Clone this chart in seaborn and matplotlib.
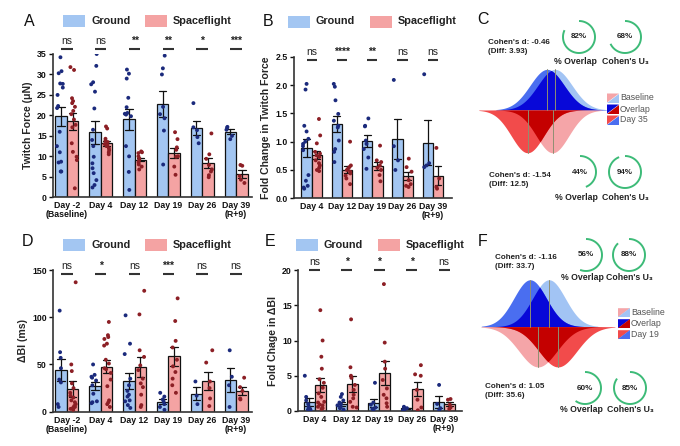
import numpy as np
import pandas as pd
import matplotlib.pyplot as plt
import seaborn as sns
from matplotlib.patches import Rectangle, Polygon

sns.set_style('ticks')
plt.rcParams['font.family'] = ['Liberation Sans', 'DejaVu Sans']
plt.rcParams['font.weight'] = 'bold'
plt.rcParams['axes.labelweight'] = 'bold'
np.random.seed(3)  # only for the jitter of the dots

W, H = 680, 446
groups = ['Ground', 'Spaceflight']
bar_colors = ['#a3c6f2', '#f4a3a3']
dot_colors = ['#1b2a7c', '#8c1f25']

# A: twitch force (uN), one list per day
days_a = ['Day -2\n(Baseline)', 'Day 4', 'Day 12', 'Day 19', 'Day 26', 'Day 39\n(R+9)']
force_ground = [
    [34.2, 30.8, 30.3, 27.8, 27.7, 26.8, 25.0, 22.3, 21.8, 16.0, 12.5, 11.0, 8.7, 8.5, 6.3, 6.3],
    [35.0, 32.1, 28.1, 27.6, 25.8, 21.7, 16.5, 14.0, 12.5, 9.9, 8.3, 7.1, 5.9, 4.2, 3.0, 2.4],
    [31.2, 30.2, 29.0, 24.3, 22.0, 20.6, 20.4, 20.2, 19.8, 12.5, 10.0, 6.2, 1.8],
    [34.6, 31.5, 30.0, 22.1, 20.3, 19.3, 16.3, 8.0],
    [23.0, 17.1, 16.4, 14.7, 13.2],
    [17.2, 17.0, 16.5, 15.0, 14.2],
]
force_flight = [
    [31.8, 31.1, 24.2, 23.5, 23.0, 22.1, 21.1, 20.3, 19.0, 17.7, 17.1, 13.2, 11.1, 9.9, 9.1, 2.2],
    [17.3, 16.8, 14.3, 13.8, 13.5, 13.0, 12.8, 12.5, 12.0, 11.5, 11.0, 10.5],
    [11.2, 11.0, 10.8, 10.0, 9.5, 9.0, 8.5, 8.0, 7.5, 6.8],
    [15.9, 14.2, 12.2, 11.6, 10.0, 9.9, 7.5, 5.5],
    [15.6, 10.5, 9.4, 7.9, 6.8, 6.3, 5.4, 4.9],
    [7.9, 7.7, 5.2, 4.3, 3.5],
]
sig_a = ['ns', 'ns', '**', '**', '*', '***']

# B: fold change in twitch force
days_b = ['Day 4', 'Day 12', 'Day 19', 'Day 26', 'Day 39\n(R+9)']
fold_ground = [
    [2.02, 1.92, 1.28, 1.18, 1.05, 1.00, 0.96, 0.92, 0.85, 0.41, 0.31, 0.22, 0.19, 0.17],
    [2.02, 1.97, 1.73, 1.49, 1.37, 1.28, 1.25, 1.02, 0.87, 0.82, 0.64],
    [1.41, 1.28, 1.27, 1.02, 0.96, 0.87, 0.72, 0.52],
    [2.09, 0.92, 0.67, 0.50],
    [2.19, 0.62, 0.58, 0.55],
]
fold_flight = [
    [1.40, 1.11, 0.97, 0.82, 0.79, 0.76, 0.73, 0.67, 0.62, 0.58, 0.54, 0.50, 0.48],
    [1.00, 0.58, 0.55, 0.52, 0.50, 0.47, 0.44, 0.40, 0.35, 0.25],
    [0.93, 0.67, 0.64, 0.58, 0.54, 0.50, 0.41, 0.30],
    [0.70, 0.55, 0.47, 0.32, 0.25, 0.22, 0.20],
    [0.89, 0.35, 0.20, 0.17],
]
sig_b = ['ns', '****', '**', 'ns', 'ns']

# D: delta BI (ms)
bi_ground = [
    [107, 63, 57, 46, 34, 31, 8, 5],
    [50, 39, 37, 36, 33, 28, 19, 11, 10, 9],
    [102, 72, 61, 35, 28, 22, 18, 16, 12, 11, 7, 4],
    [20, 16, 13, 11, 8, 5, 2],
    [32, 17, 8],
    [65, 37, 28, 5],
]
bi_flight = [
    [137, 50, 43, 30, 25, 20, 17, 15, 12, 10, 8, 6, 5, 4, 3, 2],
    [95, 81, 79, 77, 72, 70, 55, 51, 46, 45, 41, 34, 27, 12, 10, 8, 5],
    [128, 103, 65, 58, 49, 44, 35, 30, 26, 18, 7, 5],
    [120, 96, 75, 68, 55, 48, 42, 35, 28, 20],
    [65, 52, 32, 25, 14, 6],
    [36, 26, 22, 14, 13],
]
sig_d = ['ns', '*', 'ns', '***', 'ns', 'ns']

# E: fold change in delta BI
bifold_ground = [
    [5.0, 2.0, 1.5, 1.0, 0.6, 0.3, 0.2, 0.1],
    [2.4, 2.0, 1.5, 1.2, 1.0, 0.8, 0.6, 0.4, 0.2, 0.1],
    [4.0, 1.2, 0.9, 0.5, 0.3, 0.2],
    [0.6, 0.5, 0.4, 0.2, 0.1],
    [3.7, 1.0, 0.4, 0.1],
]
bifold_flight = [
    [14.3, 10.0, 7.7, 6.0, 4.5, 4.0, 3.3, 2.5, 2.0, 1.3, 1.2, 0.9, 0.8, 0.6, 0.4, 0.3],
    [13.0, 6.2, 5.0, 4.7, 3.7, 3.0, 2.3, 1.8, 1.3, 0.6, 0.5],
    [18.0, 9.7, 7.0, 6.0, 4.4, 3.2, 2.3, 1.8, 1.1, 0.6],
    [6.5, 5.2, 5.0, 3.0, 1.6, 0.5, 0.1],
    [1.7, 1.6, 0.9, 0.5, 0.3],
]
sig_e = ['ns', '*', '*', '*', 'ns']

# C / F: effect sizes (top = Ground, bottom = Spaceflight)
c_d = [-0.46, -1.54]
c_diff = [3.93, 12.5]
c_overlap = [82, 44]
c_u3 = [68, 94]
f_d = [-1.16, 1.05]
f_diff = [33.7, 35.6]
f_overlap = [56, 60]
f_u3 = [88, 85]


def px_rect(x0, y0, x1, y1):
    return [x0 / W, 1 - y1 / H, (x1 - x0) / W, (y1 - y0) / H]


def long_table(days, ground, flight):
    rows = []
    for day, g, f in zip(days, ground, flight):
        rows += [(day, 'Ground', v) for v in g]
        rows += [(day, 'Spaceflight', v) for v in f]
    return pd.DataFrame(rows, columns=['day', 'group', 'value'])


fig = plt.figure(figsize=(6.8, 4.46), dpi=100)


def bar_panel(rect, days, ground, flight, sig, ylim, yticks, ylabel, xlim, line_y, fmt):
    ax = fig.add_axes(rect)
    df = long_table(days, ground, flight)
    sns.barplot(data=df, x='day', y='value', hue='group', hue_order=groups,
                palette=bar_colors, errorbar='se', capsize=0.45, width=0.68, gap=0,
                edgecolor='#111111', linewidth=0.9, saturation=1,
                err_kws={'color': '#111111', 'linewidth': 0.9}, legend=False, ax=ax)
    sns.stripplot(data=df, x='day', y='value', hue='group', hue_order=groups,
                  palette=dot_colors, dodge=True, jitter=0.2, size=2.8, linewidth=0,
                  legend=False, ax=ax)
    ax.set_xlim(*xlim)
    ax.set_ylim(*ylim)
    ax.set_yticks(yticks)
    ax.set_yticklabels([fmt.format(t) for t in yticks])
    ax.set_xlabel('')
    ax.set_ylabel(ylabel, fontsize=7.6, labelpad=3)
    sns.despine(ax=ax)
    for s in ['left', 'bottom']:
        ax.spines[s].set_linewidth(1.2)
        ax.spines[s].set_color('#333333')
    ax.tick_params(axis='x', length=0, pad=3, labelsize=6.3, colors='#111111')
    ax.tick_params(axis='y', length=3, width=1, pad=1.5, labelsize=6.3, colors='#111111')
    for lab in ax.get_xticklabels():
        lab.set_linespacing(1.0)
    span = ylim[1] - ylim[0]
    for i, s in enumerate(sig):
        ax.plot([i - 0.17, i + 0.17], [line_y, line_y], color='#333333', lw=1.5,
                clip_on=False, solid_capstyle='butt')
        ax.text(i, line_y + span * 0.022, s, ha='center', va='bottom', fontsize=7.5,
                fontweight='normal' if s == 'ns' else 'bold', color='#222222', clip_on=False)
    return ax


bar_panel(px_rect(53, 54, 252, 197.3), days_a, force_ground, force_flight, sig_a,
          (0, 35), np.arange(0, 36, 5), 'Twitch Force (μN)', (-0.41, 5.47), 36.2, '{:g}')
bar_panel(px_rect(294, 56.7, 452, 198.3), days_b, fold_ground, fold_flight, sig_b,
          (0, 2.5), np.arange(0, 2.51, 0.5), 'Fold Change in Twitch Force', (-0.585, 4.63),
          2.44, '{:.1f}')
bar_panel(px_rect(53, 270, 252, 411.7), days_a, bi_ground, bi_flight, sig_d,
          (0, 150), [0, 50, 100, 150], 'ΔBI (ms)', (-0.41, 5.47), 145.5, '{:g}')
bar_panel(px_rect(298, 270, 462, 411), days_b, bifold_ground, bifold_flight, sig_e,
          (0, 20), [0, 5, 10, 15, 20], 'Fold Chage in ΔBI', (-0.51, 4.55), 20.0, '{:g}')


# effect size curves
blue_cols = ['#a2c4f4', '#4a6ef0', '#0808d8']   # baseline, day, overlap
red_cols = ['#f5a5a8', '#f24b4b', '#c40000']
mean_line = '#8f8f72'


def pdf(x, m, s):
    return np.exp(-0.5 * ((x - m) / s) ** 2) / (s * np.sqrt(2 * np.pi))


def effect_curves(ax, base, d, diff, sign, cols):
    day = base + np.sign(d) * diff
    sd = diff / abs(d)
    x = np.linspace(min(base, day) - 3 * sd, max(base, day) + 3 * sd, 400)
    pb, pdy = pdf(x, base, sd), pdf(x, day, sd)
    ax.fill_between(x, 0, sign * pb, color=cols[0], lw=0)
    ax.fill_between(x, 0, sign * pdy, color=cols[1], lw=0)
    ax.fill_between(x, 0, sign * np.minimum(pb, pdy), color=cols[2], lw=0)
    peak = pdf(0, 0, sd)
    for m in (base, day):
        ax.plot([m, m], [0, sign * peak], color=mean_line, lw=0.7)


def effect_panel(rect_px, ref_px, px_per_unit, zero_px, px_per_pdf, bases, ds, diffs):
    x0, y0, x1, y1 = rect_px
    ax = fig.add_axes(px_rect(x0, y0, x1, y1))
    ref = bases[0]
    ax.set_xlim(ref - (ref_px - x0) / px_per_unit, ref + (x1 - ref_px) / px_per_unit)
    ax.set_ylim(-(y1 - zero_px) / px_per_pdf, (zero_px - y0) / px_per_pdf)
    effect_curves(ax, bases[0], ds[0], diffs[0], 1, blue_cols)
    effect_curves(ax, bases[1], ds[1], diffs[1], -1, red_cols)
    ax.axis('off')


effect_panel((470, 60, 620, 160), 555, 2.0, 110, 870,
             [np.mean(force_ground[0]), np.mean(force_flight[0])], c_d, c_diff)
effect_panel((475, 265, 625, 390), 549, 0.56, 326.7, 3418,
             [np.mean(bi_ground[0]), np.mean(bi_flight[0])], f_d, f_diff)

# overlay in pixel coordinates: letters, legends, rings
ov = fig.add_axes([0, 0, 1, 1])
ov.set_xlim(0, W)
ov.set_ylim(H, 0)
ov.axis('off')

for letter, x, y in [('A', 24, 21), ('B', 263, 21), ('C', 477, 20),
                     ('D', 22, 241), ('E', 265, 241), ('F', 478, 241)]:
    ov.text(x, y, letter, fontsize=11.5, fontweight='normal', ha='left', va='center', color='#111111')

for gx, sx, y in [(63, 145, 21), (288, 370, 21.5), (63, 145, 245), (296, 378, 244.5)]:
    for px, col, lab in [(gx, bar_colors[0], 'Ground'), (sx, bar_colors[1], 'Spaceflight')]:
        ov.add_patch(Rectangle((px, y - 6), 22, 12, color=col, lw=0))
        ov.text(px + 28, y, lab, fontsize=7.8, ha='left', va='center', color='#222222')


def ring(cx, cy, pct):
    # clockwise from 12 o'clock (y axis points down here)
    t = np.linspace(0, 2 * np.pi * pct / 100, 120)
    ov.plot(cx + 16 * np.sin(t), cy - 16 * np.cos(t), color='#3dbb78', lw=1.4,
            solid_capstyle='butt')
    ov.text(cx, cy, f'{pct}%', fontsize=5.8, ha='center', va='center', color='#222222')


def stats_block(tx, ty, d, diff, ry, ox, ux, ov_pct, u3_pct, ly):
    ov.text(tx, ty, f"Cohen's d: {d:g}\n(Diff: {diff:g})", fontsize=5.8, ha='left',
            va='center', linespacing=1.3, color='#222222')
    ring(ox, ry, ov_pct)
    ring(ux, ry, u3_pct)
    ov.text(ox - 4, ly, '% Overlap', fontsize=6.3, ha='center', va='center', color='#222222')
    ov.text(ux, ly, "Cohen's U₃", fontsize=6.3, ha='center', va='center', color='#222222')


stats_block(488, 47, c_d[0], c_diff[0], 37, 579, 625, c_overlap[0], c_u3[0], 61)
stats_block(489, 180, c_d[1], c_diff[1], 172, 580, 625, c_overlap[1], c_u3[1], 197)
stats_block(495, 262, f_d[0], f_diff[0], 255, 586, 629, f_overlap[0], f_u3[0], 277.5)
stats_block(485, 391, f_d[1], f_diff[1], 388, 585, 630, f_overlap[1], f_u3[1], 410)


def split_key(x0, yc, labels):
    pairs = [(red_cols[0], blue_cols[0]), (blue_cols[2], red_cols[2]), (red_cols[1], blue_cols[1])]
    for k, (lab, (c1, c2)) in enumerate(zip(labels, pairs)):
        y0 = yc + k * 11 - 4.5
        ov.add_patch(Polygon([(x0, y0), (x0 + 12, y0), (x0, y0 + 9)], closed=True, color=c1, lw=0))
        ov.add_patch(Polygon([(x0 + 12, y0), (x0 + 12, y0 + 9), (x0, y0 + 9)], closed=True, color=c2, lw=0))
        ov.text(x0 + 13, yc + k * 11, lab, fontsize=6.3, fontweight='normal', ha='left',
                va='center', color='#555555')


split_key(607, 98, ['Baseline', 'Overlap', 'Day 35'])
split_key(618, 312.7, ['Baseline', 'Overlap', 'Day 19'])

fig.savefig('out.png', dpi=100)
